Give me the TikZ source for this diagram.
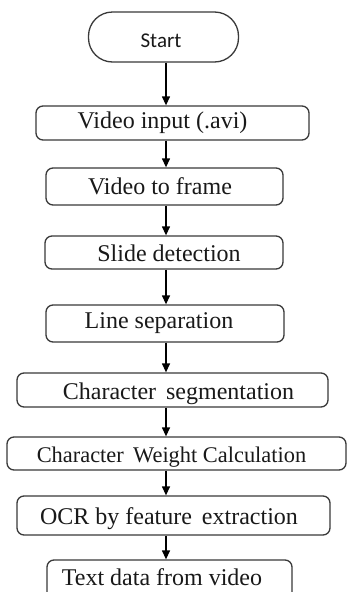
\documentclass[tikz,border=0pt]{standalone}
\usepackage{fontspec}
\setmainfont{Liberation Serif}
\newfontfamily\startfont{Carlito}
\usetikzlibrary{arrows.meta}
\definecolor{edge}{HTML}{3A3A3A}
\tikzset{
  stepbox/.style={draw=edge, line width=1.3pt, rounded corners=7pt, fill=white, inner sep=0pt},
  lbl/.style={anchor=base, inner sep=0pt, font=\fontsize{24}{26}\selectfont, text=black!90},
  flow/.style={draw=black, line width=1.3pt, -{Triangle[width=8pt,length=9pt]}}
}
\begin{document}
\begin{tikzpicture}[x=1pt,y=-1pt]
\useasboundingbox (0,0) rectangle (348,592);
\clip (0,0) rectangle (348,592);
\fill[white] (0,0) rectangle (348,592);
% boxes
\node[stepbox, rounded corners=24pt, minimum width=150pt, minimum height=50pt] (s) at (163.5,37) {};
\node[stepbox, minimum width=273pt, minimum height=34pt] (b1) at (172.5,123) {};
\node[stepbox, minimum width=237pt, minimum height=37pt] (b2) at (164.5,186.5) {};
\node[stepbox, minimum width=238pt, minimum height=33pt] (b3) at (164,252.5) {};
\node[stepbox, minimum width=238pt, minimum height=37pt] (b4) at (165,323.5) {};
\node[stepbox, minimum width=311pt, minimum height=34pt] (b5) at (172.5,390) {};
\node[stepbox, minimum width=339pt, minimum height=33pt] (b6) at (176.5,453.5) {};
\node[stepbox, minimum width=313pt, minimum height=39pt] (b7) at (173.5,515.5) {};
\node[stepbox, minimum width=245pt, minimum height=42pt] (b8) at (169.5,581) {};
% labels
\node[lbl, font=\startfont\fontsize{21}{24}\selectfont] (ts) at (161,47) {Start};
\node[lbl] (t1) at (162.5,128) {Video input (.avi)};
\node[lbl] (t2) at (160,194) {Video to frame};
\node[lbl] (t3) at (169,261) {Slide detection};
\node[lbl] (t4) at (159,328) {Line separation};
\node[lbl] (t5) at (178.5,399) {Character\, segmentation};
\node[lbl, font=\fontsize{22.4}{24}\selectfont] (t6) at (171.5,462) {Character\, Weight Calculation};
\node[lbl] (t7) at (169,524) {OCR by feature\, extraction};
\node[lbl] (t8) at (162,585) {Text data from video};
% arrows
\coordinate (ax) at (166,0);
\draw[flow] (s.south -| ax) -- (b1.north -| ax);
\draw[flow] (b1.south -| ax) -- (b2.north -| ax);
\draw[flow] (b2.south -| ax) -- (b3.north -| ax);
\draw[flow] (b3.south -| ax) -- (b4.north -| ax);
\draw[flow] (b4.south -| ax) -- (b5.north -| ax);
\draw[flow] (b5.south -| ax) -- (b6.north -| ax);
\draw[flow] (b6.south -| ax) -- (b7.north -| ax);
\draw[flow] (b7.south -| ax) -- (b8.north -| ax);
\end{tikzpicture}
\end{document}
